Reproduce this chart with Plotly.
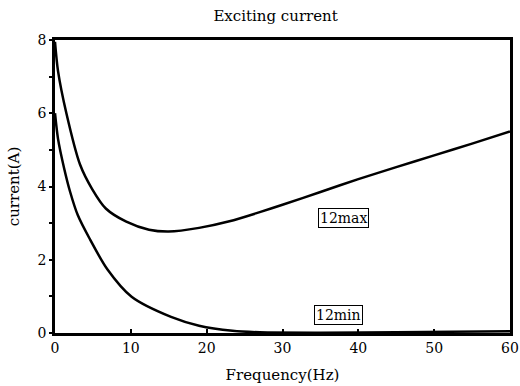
import plotly.graph_objects as go

freq_max = [0, 0.4, 1.5, 3.3, 4.9, 6.7, 9.4, 12.4, 15, 19, 23, 27, 30, 35, 40, 45, 50, 55, 60]
cur_max = [7.95, 7.15, 6.0, 4.6, 3.93, 3.4, 3.04, 2.82, 2.77, 2.87, 3.05, 3.3, 3.5, 3.85, 4.2, 4.53, 4.85, 5.17, 5.5]

freq_min = [0, 0.4, 1.2, 2.0, 3.0, 4.5, 6.9, 10.1, 15.3, 19, 23.4, 27, 35, 45, 60]
cur_min = [6.0, 5.3, 4.5, 3.85, 3.22, 2.6, 1.74, 0.99, 0.44, 0.2, 0.06, 0.02, 0.01, 0.02, 0.05]

labels = ["12max", "12min"]
label_x = [38, 37.4]
label_y = [3.14, 0.5]

x_ticks = [0, 10, 20, 30, 40, 50, 60]
y_ticks = [0, 2, 4, 6, 8]

font = "DejaVu Serif"

fig = go.Figure()
fig.add_trace(go.Scatter(x=freq_max, y=cur_max, mode="lines", line=dict(color="black", width=2.5, shape="spline", smoothing=0.8), showlegend=False))
fig.add_trace(go.Scatter(x=freq_min, y=cur_min, mode="lines", line=dict(color="black", width=2.5, shape="spline", smoothing=0.8), showlegend=False))

for t, x, y in zip(labels, label_x, label_y):
    fig.add_annotation(x=x, y=y, text=t, showarrow=False, bordercolor="black", borderwidth=1, borderpad=1,
                       bgcolor="white", font=dict(family=font, size=14, color="black"))

fig.update_layout(
    width=520, height=386,
    margin=dict(l=55, r=10, t=40, b=53),
    paper_bgcolor="white", plot_bgcolor="white",
    title=dict(text="Exciting current", x=0.53, xanchor="center", y=0.96, yanchor="middle",
               font=dict(family=font, size=15, color="black")),
    font=dict(family=font, size=14, color="black"),
)
fig.update_xaxes(range=[0, 60], tickvals=x_ticks, ticks="inside", ticklen=4, tickwidth=2, tickcolor="black",
                 showline=True, linecolor="black", linewidth=2.5, mirror=True, showgrid=False, zeroline=False,
                 automargin=False, ticklabeloverflow="allow",
                 title=dict(text="Frequency(Hz)", font=dict(family=font, size=15)),
                 tickfont=dict(family=font, size=14))
fig.update_yaxes(range=[0, 8], tickvals=y_ticks, ticks="outside", ticklen=3, tickwidth=2, tickcolor="black",
                 minor=dict(tickvals=[1, 3, 5, 7], ticks="outside", ticklen=3, tickwidth=2, tickcolor="black"),
                 showline=True, linecolor="black", linewidth=2.5, mirror=True, showgrid=False, zeroline=False,
                 automargin=False,
                 title=dict(text="current(A)", font=dict(family=font, size=15)),
                 tickfont=dict(family=font, size=14))

fig.write_html("out.html", config={"displayModeBar": False},
               post_script="document.body.style.margin='0';document.body.style.overflow='hidden';")
